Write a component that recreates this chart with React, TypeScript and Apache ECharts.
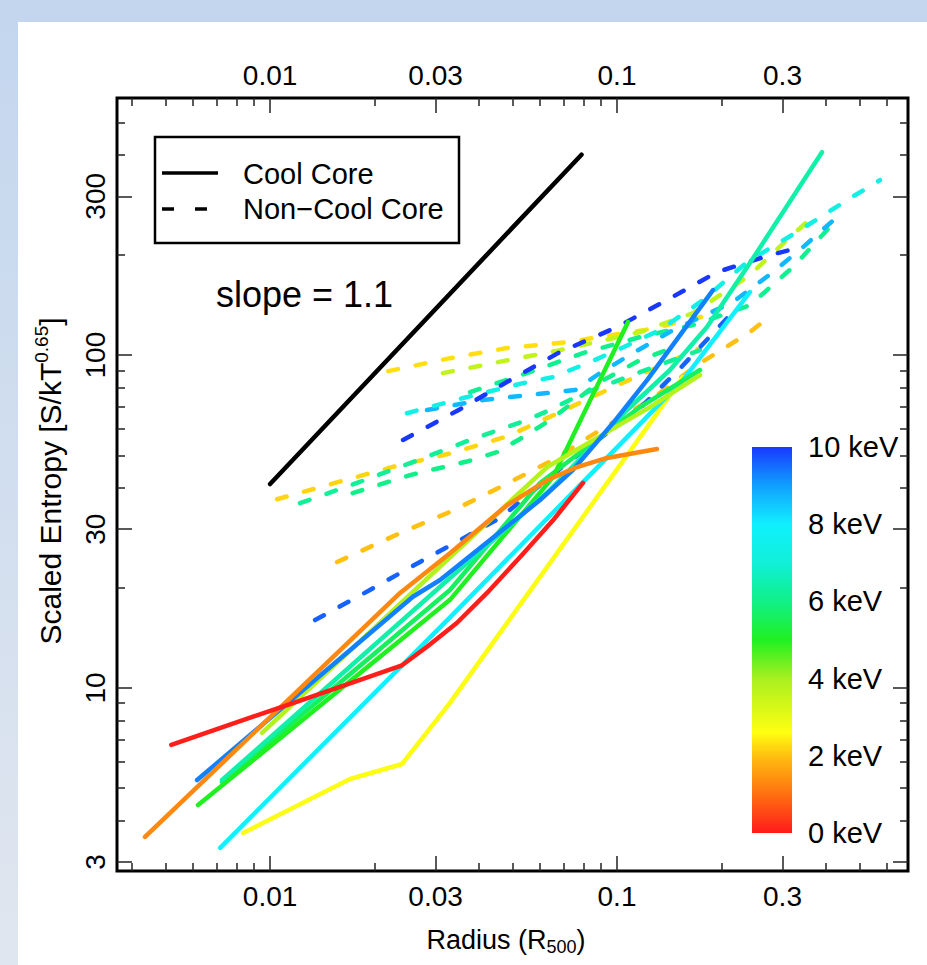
import React, { useEffect, useRef } from "react";
import * as echarts from "echarts";

// ---------- axis ticks / labels ----------
const xMajorTicks = [0.01, 0.03, 0.1, 0.3];
const xMajorLabels = ["0.01", "0.03", "0.1", "0.3"];
const xMinorTicks = [0.004, 0.005, 0.006, 0.007, 0.008, 0.009, 0.02, 0.04, 0.05, 0.06, 0.07, 0.08, 0.09, 0.2, 0.4, 0.5, 0.6];
const yMajorTicks = [3, 10, 30, 100, 300];
const yMajorLabels = ["3", "10", "30", "100", "300"];
const yMinorTicks = [4, 5, 6, 7, 8, 9, 20, 40, 50, 60, 70, 80, 90, 200, 400, 500];
const xRange = [0.00362, 0.69];
const yRange = [2.82, 592];

// ---------- colour bar ----------
const keVStops = [0, 1, 2, 2.6, 4, 5, 6, 7, 8, 9, 10];
const keVColors = ["#ff1a1a", "#ff7010", "#ffc010", "#ffff10", "#a8f020", "#20f020", "#10f088", "#10f0d8", "#10f0ff", "#10a0ff", "#1838ff"];
const colorbarTicks = [0, 2, 4, 6, 8, 10];
const colorbarLabels = ["0 keV", "2 keV", "4 keV", "6 keV", "8 keV", "10 keV"];

// ---------- reference slope line (slope = 1.1) ----------
const slopeLine: [number, number][] = [[0.01, 41], [0.079, 400]];

// ---------- cool-core profiles [radius R500, scaled entropy] ----------
const ccRed: [number, number][] = [[0.00519, 6.75], [0.01142, 8.95], [0.024, 11.7], [0.02834, 13.3], [0.0346, 15.7], [0.0422, 19.3], [0.0525, 24.7], [0.0654, 31.9], [0.0798, 41.3]];
const ccOrange: [number, number][] = [[0.00436, 3.57], [0.0237, 19.3], [0.033, 25.4], [0.0482, 35.4], [0.0629, 42.1], [0.0767, 46.1], [0.0936, 49.1], [0.1304, 52.2]];
const ccYellow: [number, number][] = [[0.00836, 3.67], [0.017, 5.33], [0.024, 5.91], [0.033, 9.02], [0.1549, 85.9]];
const ccCyan: [number, number][] = [[0.00718, 3.31], [0.033, 16.3], [0.0819, 42.7], [0.1549, 84.1], [0.2416, 154.6]];
const ccBlue: [number, number][] = [[0.00616, 5.29], [0.0258, 18.8], [0.0309, 21.1], [0.046, 29.4], [0.06, 36.7], [0.0747, 45.2], [0.0974, 62.5], [0.1221, 84.1], [0.1891, 156.7]];
const ccSpring: [number, number][] = [[0.00727, 5.29], [0.033, 21.4], [0.0641, 39.3], [0.1069, 68.4], [0.1421, 90.2], [0.1817, 121.4], [0.2416, 189], [0.3898, 407]];
const ccGreen: [number, number][] = [[0.0062, 4.45], [0.033, 18.4], [0.0654, 43.0], [0.1076, 125.7]];
const ccGreen2: [number, number][] = [[0.00727, 5.22], [0.033, 19.7], [0.06, 41.3], [0.1165, 69.8], [0.1734, 90.2]];
const ccYellowGreen: [number, number][] = [[0.00948, 7.33], [0.033, 24.7], [0.0629, 46.1], [0.1245, 69.8], [0.1734, 87.1]];

// ---------- non-cool-core profiles ----------
const ncGold1: [number, number][] = [[0.0219, 89.5], [0.033, 97.9], [0.0482, 105], [0.0718, 109.4], [0.1245, 119.7], [0.1794, 131]];
const ncYellowGreen: [number, number][] = [[0.0315, 88.3], [0.0469, 95.9], [0.0685, 103.5], [0.1165, 117.2], [0.1656, 133.7], [0.2416, 173.9], [0.315, 226], [0.3796, 268.8]];
const ncBlue1: [number, number][] = [[0.02417, 55.6], [0.0353, 68.8], [0.0492, 84.1], [0.0676, 101.4], [0.1, 121.4], [0.1393, 146.3], [0.1942, 177.5], [0.276, 199.7], [0.3481, 212.5]];
const ncTurquoise: [number, number][] = [[0.0248, 66.9], [0.036, 74.3], [0.0536, 82.4], [0.0654, 85.9], [0.0836, 95.3], [0.1, 103.5], [0.133, 118.9], [0.177, 146.3], [0.2369, 190.2], [0.3369, 237.4], [0.4694, 296], [0.5729, 335.4]];
const ncLightBlue: [number, number][] = [[0.02834, 68.4], [0.0411, 73.3], [0.0629, 76.9], [0.0757, 78.5], [0.0893, 88.3], [0.1112, 101.4], [0.145, 118.9], [0.2159, 144.3], [0.2815, 177.5], [0.3436, 211], [0.4305, 259.7]];
const ncSpring1: [number, number][] = [[0.0377, 77.4], [0.055, 88.3], [0.0798, 101.4], [0.1165, 113.3], [0.17, 123.9], [0.2416, 141.3], [0.3215, 183.8], [0.4334, 257.9]];
const ncSpring2: [number, number][] = [[0.0122, 35.9], [0.0178, 41.3], [0.0258, 47.7], [0.0377, 55.6], [0.055, 63.8], [0.0641, 68.4], [0.0782, 75.9], [0.1165, 88.9], [0.1734, 103.5]];
const ncSpring3: [number, number][] = [[0.0173, 38.5], [0.0253, 43.6], [0.0372, 48.0], [0.0451, 51.1], [0.0536, 56.7], [0.0641, 63.8], [0.0882, 82.4], [0.1165, 96.6], [0.152, 107.2]];
const ncGold2: [number, number][] = [[0.01047, 36.9], [0.01539, 41.3], [0.02247, 46.1], [0.03345, 50.8], [0.0485, 57.1], [0.0685, 67.4], [0.0974, 80.1], [0.1393, 94.6], [0.1734, 105]];
const ncGold3: [number, number][] = [[0.0156, 23.9], [0.0237, 29.2], [0.033, 33.8], [0.046, 40.1], [0.0654, 48.4], [0.0893, 59.5], [0.127, 74.3], [0.17, 93.3], [0.2416, 117.2], [0.2742, 130.1]];
const ncBlue2: [number, number][] = [[0.01348, 16.0], [0.0194, 19.7], [0.0276, 24.2], [0.0324, 26.5], [0.046, 32.4], [0.0718, 47.4], [0.1165, 69.3], [0.1523, 91.4], [0.2117, 131.9]];

// temperature (keV) of each profile
const profiles = [
  { pts: ncGold3, kT: 2.0, cool: false },
  { pts: ncGold2, kT: 2.2, cool: false },
  { pts: ncSpring3, kT: 6.0, cool: false },
  { pts: ncSpring2, kT: 6.2, cool: false },
  { pts: ncGold1, kT: 2.3, cool: false },
  { pts: ncYellowGreen, kT: 3.6, cool: false },
  { pts: ncSpring1, kT: 6.1, cool: false },
  { pts: ncLightBlue, kT: 8.7, cool: false },
  { pts: ncTurquoise, kT: 7.3, cool: false },
  { pts: ncBlue1, kT: 10, cool: false },
  { pts: ncBlue2, kT: 9.6, cool: false },
  { pts: ccYellow, kT: 2.65, cool: true },
  { pts: ccCyan, kT: 8.0, cool: true },
  { pts: ccGreen2, kT: 5.6, cool: true },
  { pts: ccGreen, kT: 5.0, cool: true },
  { pts: ccSpring, kT: 6.4, cool: true },
  { pts: ccYellowGreen, kT: 3.8, cool: true },
  { pts: ccBlue, kT: 9.3, cool: true },
  { pts: ccOrange, kT: 1.3, cool: true },
  { pts: ccRed, kT: 0.05, cool: true },
];

const FONT = "'Liberation Sans', Arial, Helvetica, sans-serif";
const GRID = { left: 117, top: 98, width: 791, height: 773 };

function hexToRgb(h: string) {
  const n = parseInt(h.slice(1), 16);
  return [(n >> 16) & 255, (n >> 8) & 255, n & 255];
}
function colorFor(t: number) {
  let i = 0;
  while (i < keVStops.length - 2 && t > keVStops[i + 1]) i++;
  const f = Math.max(0, Math.min(1, (t - keVStops[i]) / (keVStops[i + 1] - keVStops[i])));
  const a = hexToRgb(keVColors[i]);
  const b = hexToRgb(keVColors[i + 1]);
  const c = a.map((v, k) => Math.round(v + (b[k] - v) * f));
  return `rgb(${c[0]},${c[1]},${c[2]})`;
}
const lg = (v: number) => Math.log10(v);

function makeOption() {
  const xMajLog = xMajorTicks.map(lg);
  const yMajLog = yMajorTicks.map(lg);
  const xFmt = (v: number) => {
    const i = xMajLog.findIndex((t) => Math.abs(t - v) < 1e-6);
    return i >= 0 ? xMajorLabels[i] : "";
  };
  const yFmt = (v: number) => {
    const i = yMajLog.findIndex((t) => Math.abs(t - v) < 1e-6);
    return i >= 0 ? yMajorLabels[i] : "";
  };
  const tickStyle = { color: "#222", width: 1.5 };
  const labelStyle = { color: "#000", fontFamily: FONT, fontSize: 28 };

  const xAxisBase = { type: "value", min: lg(xRange[0]), max: lg(xRange[1]), splitLine: { show: false }, axisLine: { show: false, onZero: false } };
  const yAxisBase = { type: "value", min: lg(yRange[0]), max: lg(yRange[1]), splitLine: { show: false }, axisLine: { show: false, onZero: false } };

  const xAxis = [
    { ...xAxisBase, position: "bottom", axisTick: { show: true, inside: true, length: 15, lineStyle: tickStyle, customValues: xMajLog }, axisLabel: { show: true, customValues: xMajLog, formatter: xFmt, margin: 11, ...labelStyle } },
    { ...xAxisBase, position: "bottom", axisTick: { show: true, inside: true, length: 8, lineStyle: tickStyle, customValues: xMinorTicks.map(lg) }, axisLabel: { show: false } },
    { ...xAxisBase, position: "top", axisTick: { show: true, inside: true, length: 15, lineStyle: tickStyle, customValues: xMajLog }, axisLabel: { show: true, customValues: xMajLog, formatter: xFmt, margin: 9, ...labelStyle } },
    { ...xAxisBase, position: "top", axisTick: { show: true, inside: true, length: 8, lineStyle: tickStyle, customValues: xMinorTicks.map(lg) }, axisLabel: { show: false } },
  ];
  const yAxis = [
    { ...yAxisBase, position: "left", axisTick: { show: true, inside: true, length: 15, lineStyle: tickStyle, customValues: yMajLog }, axisLabel: { show: true, customValues: yMajLog, formatter: yFmt, rotate: 90, margin: 8, ...labelStyle } },
    { ...yAxisBase, position: "left", axisTick: { show: true, inside: true, length: 8, lineStyle: tickStyle, customValues: yMinorTicks.map(lg) }, axisLabel: { show: false } },
    { ...yAxisBase, position: "right", axisTick: { show: true, inside: true, length: 15, lineStyle: tickStyle, customValues: yMajLog }, axisLabel: { show: false } },
    { ...yAxisBase, position: "right", axisTick: { show: true, inside: true, length: 8, lineStyle: tickStyle, customValues: yMinorTicks.map(lg) }, axisLabel: { show: false } },
  ];

  const series: any[] = profiles.map((p) => ({
    type: "line",
    xAxisIndex: 0,
    yAxisIndex: 0,
    data: p.pts.map(([r, s]) => [lg(r), lg(s)]),
    showSymbol: false,
    symbol: "none",
    silent: true,
    emphasis: { disabled: true },
    z: p.cool ? 4 : 3,
    lineStyle: { color: colorFor(p.kT), width: 4.5, type: p.cool ? "solid" : [10, 18], cap: "round", join: "round" },
  }));
  series.push({
    type: "line",
    data: slopeLine.map(([r, s]) => [lg(r), lg(s)]),
    showSymbol: false,
    symbol: "none",
    silent: true,
    z: 5,
    lineStyle: { color: "#000", width: 4.5, cap: "round" },
  });

  const barX = 752, barTop = 447, barW = 40, barH = 386;
  const gradStops = keVStops.map((s, i) => ({ offset: s / 10, color: keVColors[i] }));

  const graphic: any[] = [
    { type: "rect", z: 0, shape: { x: 0, y: 0, width: 927, height: 22 }, style: { fill: "#c3d6ee" } },
    { type: "rect", z: 0, shape: { x: 0, y: 0, width: 18, height: 965 }, style: { fill: new echarts.graphic.LinearGradient(0, 0, 0, 1, [{ offset: 0, color: "#c3d6ee" }, { offset: 1, color: "#e0e6ef" }]) } },
    // legend
    { type: "rect", z: 10, shape: { x: 155, y: 137, width: 304, height: 106 }, style: { fill: "#fff", stroke: "#000", lineWidth: 2.5 } },
    { type: "line", z: 11, shape: { x1: 162, y1: 173, x2: 218, y2: 173 }, style: { stroke: "#000", lineWidth: 3.5 } },
    { type: "line", z: 11, shape: { x1: 162, y1: 209, x2: 207, y2: 209 }, style: { stroke: "#000", lineWidth: 3.5, lineDash: [12, 21] } },
    { type: "text", z: 11, x: 243, y: 174, style: { text: "Cool Core", fontSize: 29, fontFamily: FONT, fill: "#000", align: "left", verticalAlign: "middle" } },
    { type: "text", z: 11, x: 243, y: 209, style: { text: "Non−Cool Core", fontSize: 29, fontFamily: FONT, fill: "#000", align: "left", verticalAlign: "middle" } },
    { type: "text", z: 11, x: 216, y: 294, style: { text: "slope = 1.1", fontSize: 36, fontFamily: FONT, fill: "#000", align: "left", verticalAlign: "middle" } },
    // colour bar
    { type: "rect", z: 10, shape: { x: barX, y: barTop, width: barW, height: barH }, style: { fill: new echarts.graphic.LinearGradient(0, 1, 0, 0, gradStops) } },
    ...colorbarTicks.map((t, i) => ({
      type: "text", z: 11, x: 808, y: barTop + barH - (t / 10) * barH,
      style: { text: colorbarLabels[i], fontSize: 29, fontFamily: FONT, fill: "#000", align: "left", verticalAlign: "middle" },
    })),
    // axis titles
    {
      type: "text", z: 11, x: 506, y: 940,
      style: {
        text: "Radius (R{sub|500})", fontSize: 27, fontFamily: FONT, fill: "#000", align: "center", verticalAlign: "middle", lineHeight: 32,
        rich: { sub: { fontSize: 18, fontFamily: FONT, fill: "#000", verticalAlign: "bottom", lineHeight: 20 } },
      },
    },
    {
      type: "text", z: 11, x: 50, y: 481, rotation: Math.PI / 2,
      style: {
        text: "Scaled Entropy [S/kT{sup|0.65}]", fontSize: 30, fontFamily: FONT, fill: "#000", align: "center", verticalAlign: "middle", lineHeight: 36,
        rich: { sup: { fontSize: 19, fontFamily: FONT, fill: "#000", verticalAlign: "top", lineHeight: 19 } },
      },
    },
  ];

  return {
    animation: false,
    backgroundColor: "#fff",
    grid: { ...GRID, show: true, borderColor: "#000", borderWidth: 3, backgroundColor: "transparent", containLabel: false },
    xAxis,
    yAxis,
    series,
    graphic,
  };
}

export default function App() {
  const ref = useRef<HTMLDivElement>(null);
  useEffect(() => {
    document.body.style.margin = "0";
    const chart = echarts.init(ref.current as HTMLDivElement, null, { renderer: "svg" });
    chart.setOption(makeOption() as any);
    return () => chart.dispose();
  }, []);
  return <div ref={ref} style={{ position: "absolute", left: 0, top: 0, width: 927, height: 965 }} />;
}
